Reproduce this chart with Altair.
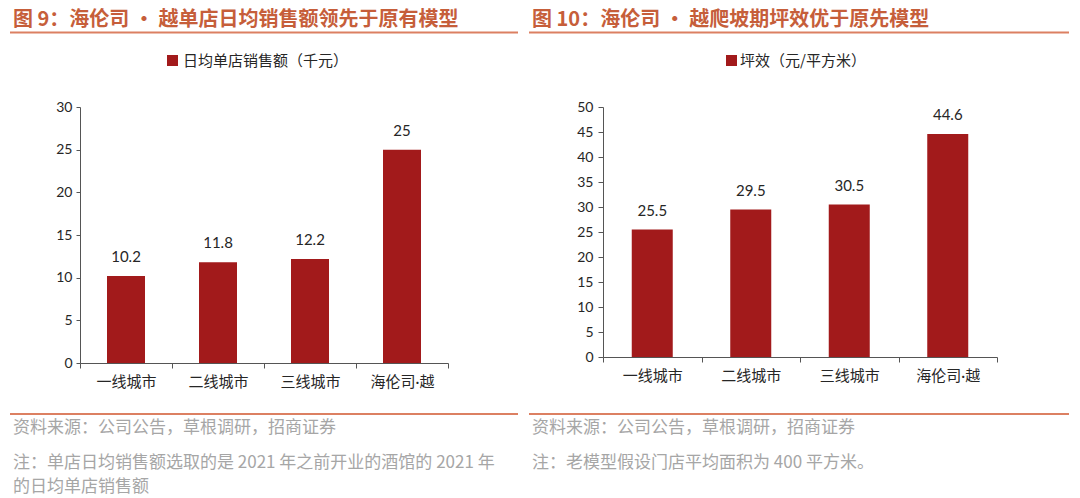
import altair as alt
import pandas as pd

# ---------------- data ----------------
categories = ["一线城市", "二线城市", "三线城市", "海伦司·越"]
daily_sales = [10.2, 11.8, 12.2, 25]          # 日均单店销售额（千元）
floor_efficiency = [25.5, 29.5, 30.5, 44.6]   # 坪效（元/平方米）

title_left = "图 9：海伦司 · 越单店日均销售额领先于原有模型"
title_right = "图 10：海伦司 · 越爬坡期坪效优于原先模型"
legend_left = "日均单店销售额（千元）"
legend_right = "坪效（元/平方米）"
source_text = "资料来源：公司公告，草根调研，招商证券"
note_left_1 = "注：单店日均销售额选取的是 2021 年之前开业的酒馆的 2021 年"
note_left_2 = "的日均单店销售额"
note_right = "注：老模型假设门店平均面积为 400 平方米。"

# ---------------- style ----------------
W, H = 1064, 490
BAR = "#A21A1B"
TITLE_C = "#C65E3A"
LINE_C = "#DC8062"
GREY = "#A6A6A6"
DARK = "#262626"
AX = "#555555"
CJK = "Noto Sans CJK SC"
NUM = "Lato"
MIX = "Lato, Noto Sans CJK SC"

df1 = pd.DataFrame({"类别": categories, "数值": daily_sales})
df2 = pd.DataFrame({"类别": categories, "数值": floor_efficiency})
one = pd.DataFrame({"k": [0]})


def panel(df, x_range, y_range, y_max, y_off, x_off, tick_y, pad_y, bar_size):
    xenc = alt.X(
        "类别:N",
        sort=categories,
        scale=alt.Scale(range=x_range, paddingInner=0, paddingOuter=0),
        axis=alt.Axis(
            orient="bottom", offset=x_off, title=None, labelAngle=0,
            tickBand="extent", tickSize=5, tickColor=AX, domainColor=AX,
            labelFont=MIX, labelFontSize=15, labelColor=DARK, labelPadding=6,
        ),
    )
    yenc = alt.Y(
        "数值:Q",
        scale=alt.Scale(domain=[0, y_max], range=y_range, nice=False),
        axis=alt.Axis(
            orient="left", offset=y_off, title=None, grid=False,
            values=list(range(0, y_max + 1, 5)), tickSize=tick_y, tickColor=AX,
            domainColor=AX, labelFont=NUM, labelFontSize=14, labelColor=DARK,
            labelPadding=pad_y,
        ),
    )
    bars = alt.Chart(df).mark_bar(color=BAR, size=bar_size).encode(x=xenc, y=yenc)
    labels = alt.Chart(df).mark_text(
        dy=-19, font=NUM, fontSize=15, color=DARK, baseline="middle"
    ).encode(x=xenc, y=yenc, text=alt.Text("数值:Q"))
    return alt.layer(bars, labels)


def text(s, x, y, size, color, weight="normal", font=CJK):
    return alt.Chart(one).mark_text(
        text=s, align="left", baseline="middle", fontSize=size, color=color,
        fontWeight=weight, font=font,
    ).encode(x=alt.value(x), y=alt.value(y))


def hline(x1, x2, y, color=LINE_C, width=2):
    return alt.Chart(one).mark_rule(color=color, strokeWidth=width).encode(
        x=alt.value(x1), x2=alt.value(x2), y=alt.value(y)
    )


def square(x1, y1, s=11):
    return alt.Chart(one).mark_rect(color=BAR).encode(
        x=alt.value(x1), x2=alt.value(x1 + s), y=alt.value(y1), y2=alt.value(y1 + s)
    )


left = panel(df1, [72, 440], [355, 99], 30, -72, 355 - H, 4, 4, 38)
right = panel(df2, [595, 989], [349, 99], 50, -595, 349 - H, 5, 5, 41)

decor = [
    # left panel
    text(title_left, 5, 12, 20, TITLE_C, "bold"),
    hline(2, 510, 24.5),
    square(159, 47),
    text(legend_left, 175, 53, 15, DARK),
    hline(2, 510, 406),
    text(source_text, 5, 420, 17, GREY),
    text(note_left_1, 5, 455, 17, GREY),
    text(note_left_2, 5, 479, 17, GREY),
    # right panel
    text(title_right, 524, 12, 20, TITLE_C, "bold"),
    hline(521, 1061, 24.5),
    square(718, 47),
    text(legend_right, 732, 53, 15, DARK),
    hline(521, 1061, 406),
    text(source_text, 524, 420, 17, GREY),
    text(note_right, 524, 455, 17, GREY),
]

chart = (
    alt.layer(left, right, *decor)
    .resolve_scale(x="independent", y="independent")
    .properties(width=W, height=H, autosize=alt.AutoSizeParams(type="none"), padding=0)
    .configure_view(stroke=None)
)

chart.save("out.html", embed_options={"renderer": "svg", "actions": False})
